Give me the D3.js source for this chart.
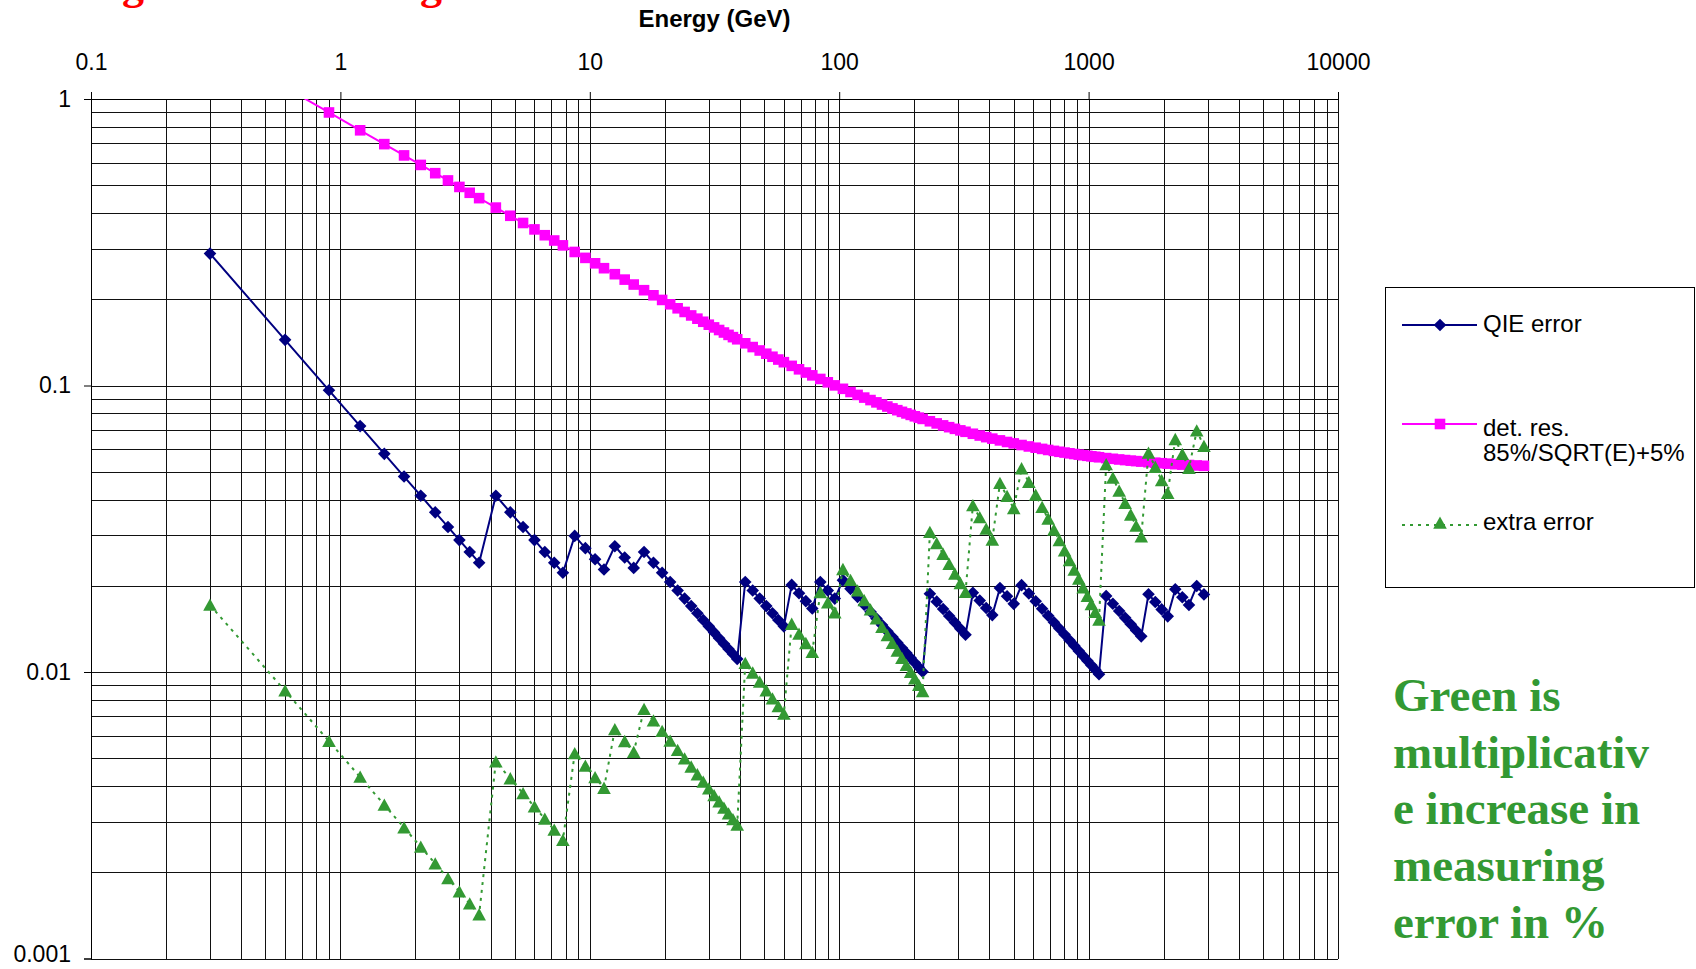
<!DOCTYPE html>
<html><head><meta charset="utf-8">
<script src="https://cdn.jsdelivr.net/npm/d3@7"></script>
<style>body{margin:0;background:#fff;} svg{display:block;}</style>
</head><body>
<svg id="chart" width="1696" height="969"></svg>
<script>
// ---------- data ----------
const energy = [0.3,0.6,0.9,1.2,1.5,1.8,2.1,2.4,2.7,3.0,3.3,3.6,
4.2,4.8,5.4,6.0,6.6,7.2,7.8,
8.7,9.6,10.5,11.4,
12.6,13.8,15.0,
16.5,18,19.5,21,22.5,24,25.5,27,28.5,30,31.5,33,34.5,36,37.5,39,
42,45,48,51,54,57,60,
64.5,69,73.5,78,
84,90,96,
103.5,111,118.5,126,133.5,141,148.5,156,163.5,171,178.5,186,193.5,201,208.5,216,
231,246,261,276,291,306,321,
343.5,366,388.5,411,
441,471,501,
538.5,576,613.5,651,688.5,726,763.5,801,838.5,876,913.5,951,988.5,1026,1063.5,1101,
1176,1251,1326,1401,1476,1551,1626,
1738.5,1851,1963.5,2076,
2226,2376,2526,
2713.5,2901];

const qieError = [0.2887,0.1443,0.09623,0.07217,0.05774,0.04811,0.04124,0.03608,0.03208,0.02887,0.02624,0.02406,
0.04124,0.03608,0.03208,0.02887,0.02624,0.02406,0.02221,
0.02986,0.02706,0.02474,0.02279,
0.02749,0.02510,0.02309,
0.02624,0.02406,0.02221,0.02062,0.01925,0.01804,0.01698,0.01604,0.01519,0.01443,0.01375,0.01312,0.01255,0.01203,0.01155,0.01110,
0.02062,0.01925,0.01804,0.01698,0.01604,0.01519,0.01443,
0.02014,0.01883,0.01767,0.01665,
0.02062,0.01925,0.01804,
0.02092,0.01951,0.01827,0.01718,0.01622,0.01536,0.01458,0.01388,0.01324,0.01266,0.01213,0.01164,0.01119,0.01077,0.01038,0.01002,
0.01875,0.01760,0.01659,0.01569,0.01488,0.01415,0.01349,
0.01891,0.01775,0.01672,0.01580,
0.01964,0.01839,0.01729,
0.02010,0.01879,0.01765,0.01663,0.01572,0.01491,0.01418,0.01352,0.01291,0.01236,0.01185,0.01138,0.01095,0.01055,0.01018,0.00983,
0.01841,0.01731,0.01633,0.01545,0.01467,0.01396,0.01332,
0.01868,0.01755,0.01654,0.01564,
0.01945,0.01823,0.01714,
0.01995,0.01866];

const detRes = [1.5527,1.0985,0.8974,0.7776,0.6958,0.6355,0.5887,0.5509,0.5197,0.4933,0.4706,0.4508,
0.4178,0.3912,0.3692,0.3506,0.3346,0.3207,0.3084,
0.2925,0.2789,0.2670,0.2567,
0.2446,0.2342,0.2251,
0.2151,0.2065,0.1989,0.1921,0.1860,0.1806,0.1756,0.1711,0.1669,0.1630,0.1595,0.1562,0.1531,0.1502,0.1475,0.1450,
0.1404,0.1362,0.1325,0.1291,0.1260,0.1232,0.1206,
0.1171,0.1139,0.1110,0.1085,
0.1054,0.1026,0.1001,
0.09737,0.09492,0.09272,0.09074,0.08895,0.08732,0.08582,0.08445,0.08318,0.08201,0.08092,0.07990,0.07896,0.07807,0.07723,0.07645,
0.07502,0.07374,0.07258,0.07154,0.07059,0.06972,0.06893,
0.06785,0.06689,0.06603,0.06525,
0.06433,0.06351,0.06279,
0.06198,0.06127,0.06065,0.06008,0.05957,0.05912,0.05870,0.05833,0.05798,0.05766,0.05737,0.05710,0.05684,0.05660,0.05638,0.05618,
0.05580,0.05548,0.05518,0.05492,0.05467,0.05446,0.05426,
0.05400,0.05376,0.05355,0.05337,
0.05315,0.05295,0.05278,
0.05259,0.05243];

const extraError = [0.01713,0.008596,0.005733,0.004298,0.003437,0.002862,0.002451,0.002143,0.001903,0.001711,0.001554,0.001423,
0.004860,0.004245,0.003767,0.003384,0.003071,0.002809,0.002588,
0.005199,0.004698,0.004284,0.003934,
0.006296,0.005727,0.005249,
0.007411,0.006763,0.006215,0.005744,0.005336,0.004980,0.004665,0.004385,0.004135,0.003911,0.003707,0.003523,0.003354,0.003200,0.003058,0.002927,
0.010733,0.009931,0.009230,0.008613,0.008065,0.007577,0.007138,
0.014694,0.013572,0.012588,0.011720,
0.018971,0.017438,0.016104,
0.022817,0.020896,0.019231,0.017771,0.016486,0.015345,0.014329,0.013416,0.012592,0.011848,0.011171,0.010556,0.009991,0.009474,0.008998,0.008559,
0.030744,0.028098,0.025793,0.023765,0.021976,0.020390,0.018972,
0.038112,0.034596,0.031558,0.028908,
0.04556,0.04106,0.037209,
0.051279,0.045988,0.041467,0.037593,0.034243,0.031318,0.028757,0.026494,0.024487,0.022707,0.021112,0.019680,0.018390,0.017224,0.016165,0.015200,
0.053015,0.047527,0.042858,0.03884,0.035365,0.032326,0.02967,
0.058142,0.051909,0.046607,0.042075,
0.064872,0.05757,0.051414,
0.069508,0.06143];

const xTicks = [0.1, 1, 10, 100, 1000, 10000];
const xTickLabels = ["0.1", "1", "10", "100", "1000", "10000"];
const yTicks = [1, 0.1, 0.01, 0.001];
const yTickLabels = ["1", "0.1", "0.01", "0.001"];
const xTitle = "Energy (GeV)";
const legendLabels = [["QIE error"], ["det. res.", "85%/SQRT(E)+5%"], ["extra error"]];
const noteLines = ["Green is", "multiplicativ", "e increase in", "measuring", "error in %"];

// ---------- layout ----------
const svg = d3.select("#chart");
const L = 91, R = 1338, T = 99, B = 958.5;
const x = d3.scaleLog().domain([0.1, 10000]).range([L, R]);
const y = d3.scaleLog().domain([0.001, 1]).range([B, T]);
const sans = "'Liberation Sans', Arial, sans-serif";
const serif = "'Liberation Serif', 'Times New Roman', serif";

// cut-off red slide title fragments at the very top (as in the reference)
[122, 420].forEach(px => svg.append("text").attr("x", px).attr("y", -1)
  .attr("font-family", serif).attr("font-weight", "bold").attr("font-size", 44)
  .attr("fill", "#ff0000").text("g"));

// grid values
const xGrid = [];
for (let p = -1; p <= 3; p++) for (let k = 1; k <= 9; k++) xGrid.push(+(k * Math.pow(10, p)).toPrecision(6));
xGrid.push(10000);
const yGrid = [];
for (let p = -3; p <= -1; p++) for (let k = 1; k <= 9; k++) yGrid.push(+(k * Math.pow(10, p)).toPrecision(6));
yGrid.push(1);

const gx = svg.append("g").attr("transform", `translate(0,${T})`)
  .call(d3.axisTop(x).tickValues(xGrid).tickSize(-(B - T)).tickFormat(""));
gx.select(".domain").remove();
gx.selectAll("line").attr("stroke", "#111").attr("shape-rendering", "crispEdges");

const gy = svg.append("g").attr("transform", `translate(${L},0)`)
  .call(d3.axisLeft(y).tickValues(yGrid).tickSize(-(R - L)).tickFormat(""));
gy.select(".domain").remove();
gy.selectAll("line").attr("stroke", "#111").attr("shape-rendering", "crispEdges");

// labelled axes
const ax = svg.append("g").attr("transform", `translate(0,${T})`)
  .call(d3.axisTop(x).tickValues(xTicks).tickSize(7).tickPadding(22)
    .tickFormat((d, i) => xTickLabels[i]));
ax.select(".domain").attr("stroke", "#000");
ax.selectAll("line").attr("stroke", "#000");
ax.selectAll("text").attr("font-family", sans).attr("font-size", 23).attr("fill", "#000");

const ay = svg.append("g").attr("transform", `translate(${L},0)`)
  .call(d3.axisLeft(y).tickValues(yTicks).tickSize(7).tickPadding(13)
    .tickFormat((d, i) => yTickLabels[i]));
ay.select(".domain").attr("stroke", "#000");
ay.selectAll("line").attr("stroke", "#000");
ay.selectAll("text").attr("font-family", sans).attr("font-size", 23).attr("fill", "#000")
  .attr("dy", d => d === 0.001 ? "0.12em" : "0.32em");

svg.append("text").attr("x", (L + R) / 2).attr("y", 27).attr("text-anchor", "middle")
  .attr("font-family", sans).attr("font-weight", "bold").attr("font-size", 24).text(xTitle);

// clip
svg.append("clipPath").attr("id", "plotclip").append("rect")
  .attr("x", L).attr("y", T).attr("width", R - L).attr("height", B - T);

const diamond = "M0,-6.3L6.3,0L0,6.3L-6.3,0Z";
const square = "M-5.3,-5.3H5.3V5.3H-5.3Z";
const triangle = "M0,-6.5L6.8,5.8L-6.8,5.8Z";

const series = [
  { vals: qieError, color: "#000080", marker: diamond, dash: null },
  { vals: detRes, color: "#ff00ff", marker: square, dash: null },
  { vals: extraError, color: "#339933", marker: triangle, dash: "3,5" }
];

const line = d3.line().x(d => x(d.e)).y(d => y(d.v));

series.forEach(s => {
  const data = energy.map((e, i) => ({ e, v: s.vals[i] }));
  const g = svg.append("g");
  g.append("path").datum(data).attr("d", line).attr("fill", "none")
    .attr("stroke", s.color).attr("stroke-width", 2)
    .attr("stroke-dasharray", s.dash)
    .attr("clip-path", "url(#plotclip)");
  g.selectAll("path.m").data(data.filter(d => d.v <= 1 && d.v >= 0.001)).join("path")
    .attr("class", "m").attr("d", s.marker)
    .attr("transform", d => `translate(${x(d.e)},${y(d.v)})`)
    .attr("fill", s.color).attr("stroke", "none");
});

// legend
const lg = svg.append("g");
lg.append("rect").attr("x", 1385.5).attr("y", 287.5).attr("width", 309).attr("height", 300)
  .attr("fill", "#fff").attr("stroke", "#000").attr("stroke-width", 1);
const legY = [325, 424, 525];
const legTextY = [[332], [436, 461], [530]];
series.forEach((s, i) => {
  lg.append("line").attr("x1", 1402).attr("x2", 1477).attr("y1", legY[i]).attr("y2", legY[i])
    .attr("stroke", s.color).attr("stroke-width", 2).attr("stroke-dasharray", s.dash);
  lg.append("path").attr("d", s.marker).attr("transform", `translate(1440,${legY[i] - (i === 2 ? 2 : 0)})`)
    .attr("fill", s.color);
  legendLabels[i].forEach((t, j) => lg.append("text").attr("x", 1483).attr("y", legTextY[i][j])
    .attr("font-family", sans).attr("font-size", 24).attr("fill", "#000").text(t));
});

// green annotation
const noteY = [711, 768, 824, 881, 938];
noteLines.forEach((t, i) => svg.append("text").attr("x", 1393).attr("y", noteY[i])
  .attr("font-family", serif).attr("font-weight", "bold").attr("font-size", 47)
  .attr("fill", "#339933").text(t));
</script>
</body></html>
